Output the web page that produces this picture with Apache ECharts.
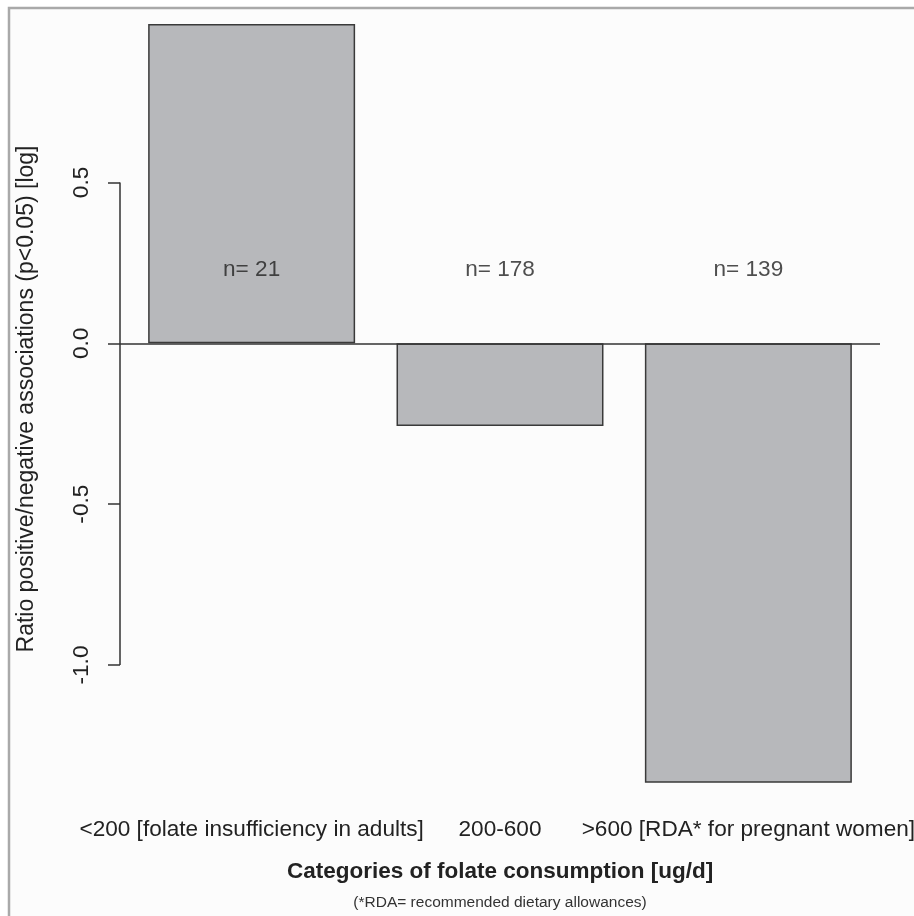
<!DOCTYPE html>
<html>
<head>
<meta charset="utf-8">
<script src="https://cdn.jsdelivr.net/npm/echarts@6/dist/echarts.min.js"></script>
<style>
  html, body { margin: 0; padding: 0; background: #ffffff; }
  #chart { width: 914px; height: 916px; }
</style>
</head>
<body>
<div id="chart"></div>
<script>
// ---- data ----
const categories = [
  '<200 [folate insufficiency in adults]',
  '200-600',
  '>600 [RDA* for pregnant women]'
];
const ratioValues = [0.9925, -0.257, -1.366];
const sampleSizes = [21, 178, 139];
const yTickValues = [-1.0, -0.5, 0.0, 0.5];

// R barplot layout: width 1, space 0.2
const barPos = categories.map((c, i) => 0.2 + i * 1.2 + 0.5);
const xMin = 0.064, xMax = 3.736;
const yMin = -1.404, yMax = 0.9925;
const labelY = 0.228;

const FONT = '"Liberation Sans", Arial, sans-serif';
const chart = echarts.init(document.getElementById('chart'));

const grid = { left: 120, right: 34, top: 24, bottom: 121, containLabel: false, outerBoundsMode: 'none' };
const barWidthPx = (914 - grid.left - grid.right) / (xMax - xMin);

const option = {
  backgroundColor: '#ffffff',
  animation: false,
  grid: grid,
  xAxis: {
    type: 'value', min: xMin, max: xMax,
    axisLine: { show: false }, axisTick: { show: false }, splitLine: { show: false },
    axisLabel: {
      customValues: barPos,
      formatter: v => categories[Math.round((v - 0.7) / 1.2)],
      fontFamily: FONT, fontSize: 22.6, color: '#222', margin: 23
    }
  },
  yAxis: {
    type: 'value', min: yMin, max: yMax,
    axisLine: { show: false }, splitLine: { show: false },
    axisTick: { show: true, customValues: yTickValues, length: 12, lineStyle: { color: '#333', width: 1.5 } },
    axisLabel: {
      customValues: yTickValues, rotate: 90, margin: 27,
      formatter: v => v.toFixed(1),
      fontFamily: FONT, fontSize: 22.6, color: '#222'
    }
  },
  series: [
    {
      type: 'bar',
      barWidth: barWidthPx,
      data: ratioValues.map((v, i) => [barPos[i], v]),
      itemStyle: { color: '#b7b8bb', borderColor: '#3a3a3a', borderWidth: 1.5 },
      markLine: {
        silent: true, symbol: 'none', label: { show: false },
        lineStyle: { color: '#333', width: 1.5, type: 'solid' },
        data: [{ yAxis: 0 }]
      }
    },
    {
      type: 'scatter',
      symbolSize: 0,
      data: sampleSizes.map((n, i) => [barPos[i], labelY]),
      label: {
        show: true, position: 'inside',
        formatter: p => 'n= ' + sampleSizes[p.dataIndex],
        fontFamily: FONT, fontSize: 22.6, color: '#222'
      }
    }
  ]
};
chart.setOption(option);

const x0 = chart.convertToPixel({ gridIndex: 0 }, [xMin, 0])[0];
const yTop = chart.convertToPixel({ gridIndex: 0 }, [xMin, yTickValues[yTickValues.length - 1]])[1];
const yBot = chart.convertToPixel({ gridIndex: 0 }, [xMin, yTickValues[0]])[1];
const xCenter = chart.convertToPixel({ gridIndex: 0 }, [barPos[1], 0])[0];

chart.setOption({
  graphic: [
    {
      type: 'rect', z: -10, silent: true,
      shape: { x: 9, y: 8, width: 940, height: 940 },
      style: { fill: '#fcfcfc', stroke: '#a9a9a9', lineWidth: 2.5 }
    },
    {
      type: 'line', silent: true,
      shape: { x1: x0, y1: yTop, x2: x0, y2: yBot },
      style: { stroke: '#333', lineWidth: 1.5 }
    },
    {
      type: 'text', silent: true,
      x: 27, y: 399, rotation: Math.PI / 2,
      style: {
        text: 'Ratio positive/negative associations (p<0.05) [log]',
        fontFamily: FONT, fontSize: 23, fill: '#222',
        align: 'center', verticalAlign: 'middle'
      }
    },
    {
      type: 'text', silent: true,
      x: xCenter, y: 872,
      style: {
        text: 'Categories of folate consumption [ug/d]',
        fontFamily: FONT, fontSize: 22.5, fontWeight: 'bold', fill: '#222',
        align: 'center', verticalAlign: 'middle'
      }
    },
    {
      type: 'text', silent: true,
      x: xCenter, y: 903,
      style: {
        text: '(*RDA= recommended dietary allowances)',
        fontFamily: FONT, fontSize: 15.5, fill: '#333',
        align: 'center', verticalAlign: 'middle'
      }
    }
  ]
});
</script>
</body>
</html>
